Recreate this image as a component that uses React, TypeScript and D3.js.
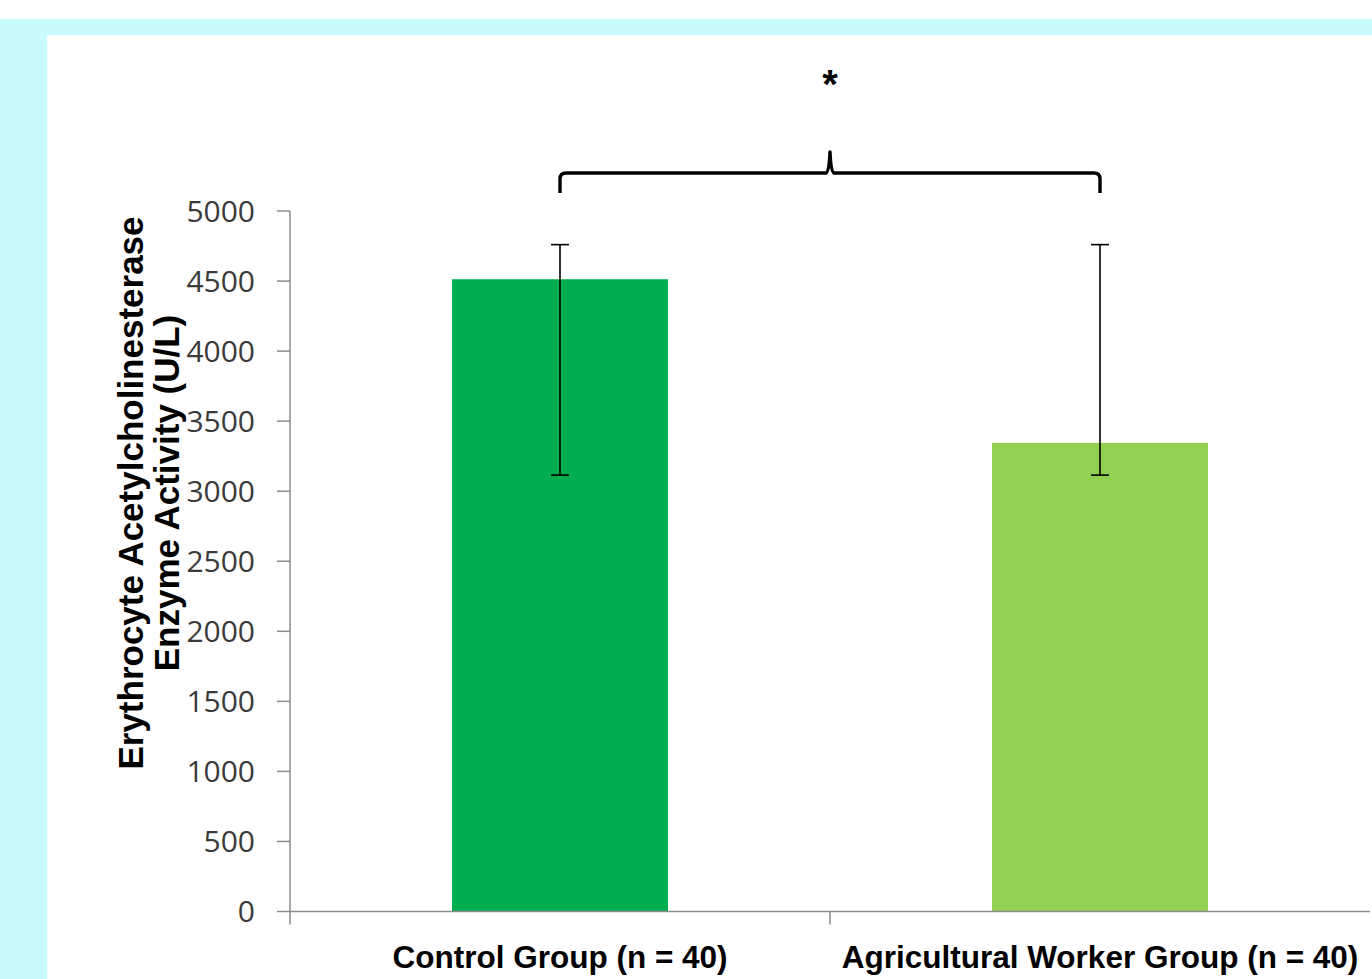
import React from "react";
import * as d3 from "d3";

const categories = ["Control Group (n = 40)", "Agricultural Worker Group (n = 40)"];
const means = [4513, 3345];
const errLow = [3115, 3115];
const errHigh = [4760, 4760];
const barColors = ["#00AE4F", "#92D050"];
const yTicks = [0, 500, 1000, 1500, 2000, 2500, 3000, 3500, 4000, 4500, 5000];
const yTitle = ["Erythrocyte Acetylcholinesterase", "Enzyme Activity (U/L)"];
const significance = "*";
// annotation levels (data units) for the brace
const braceEndLevel = 5128;
const braceLevel = 5271;
const bracePeakLevel = 5421;
const starLevel = 5975;

const W = 1372;
const H = 979;

export default function App() {
  const y = d3.scaleLinear().domain([0, 5000]).range([911.5, 211]);
  const x = d3.scaleBand<string>().domain(categories).range([290, 1370]).paddingInner(0.6).paddingOuter(0.3);
  const band = d3.scaleBand<string>().domain(categories).range([290, 1370]);
  const cx = (c: string) => (x(c) as number) + x.bandwidth() / 2;

  const x1 = cx(categories[0]);
  const x2 = cx(categories[1]);
  const xm = (x1 + x2) / 2;
  const yE = y(braceEndLevel);
  const yH = y(braceLevel);
  const yP = y(bracePeakLevel);
  const r = 6;
  const brace = `M${x1},${yE} L${x1},${yH + r} Q${x1},${yH} ${x1 + r},${yH} L${xm - 4},${yH} Q${xm - 1},${yH - 1} ${xm},${yP} Q${xm + 1},${yH - 1} ${xm + 4},${yH} L${x2 - r},${yH} Q${x2},${yH} ${x2},${yH + r} L${x2},${yE}`;

  const axisColor = "#8c8c8c";
  const tickFont = "'Open Sans', 'Noto Sans', sans-serif";
  const boldFont = "'Liberation Sans', Arial, sans-serif";

  return (
    <svg width={W} height={H} style={{ position: "absolute", left: 0, top: 0 }}>
      <rect x={0} y={0} width={W} height={H} fill="#ffffff" />
      <rect x={0} y={19} width={W} height={H - 19} fill="#C8FCFC" />
      <rect x={47} y={35} width={W - 47} height={H - 35} fill="#ffffff" />

      {/* bars */}
      {categories.map((c, i) => (
        <rect
          key={c}
          x={x(c)}
          y={y(means[i])}
          width={x.bandwidth()}
          height={y(0) - y(means[i])}
          fill={barColors[i]}
        />
      ))}

      {/* y axis */}
      <line x1={290} x2={290} y1={y(5000)} y2={y(0) + 13} stroke={axisColor} strokeWidth={1.5} />
      {yTicks.map((t) => (
        <g key={t}>
          <line x1={277} x2={290} y1={y(t)} y2={y(t)} stroke={axisColor} strokeWidth={1.5} />
          <text
            x={255}
            y={y(t) + 30 * 0.357}
            textAnchor="end"
            fontFamily={tickFont}
            fontSize={30}
            fill="#3a3a3a"
          >
            {t}
          </text>
        </g>
      ))}

      {/* x axis */}
      <line x1={290} x2={1370} y1={y(0)} y2={y(0)} stroke={axisColor} strokeWidth={1.5} />
      {categories.slice(1).map((c) => (
        <line key={c} x1={band(c)} x2={band(c)} y1={y(0)} y2={y(0) + 13} stroke={axisColor} strokeWidth={1.5} />
      ))}
      {categories.map((c) => (
        <text
          key={c}
          x={cx(c)}
          y={968}
          textAnchor="middle"
          fontFamily={boldFont}
          fontWeight="bold"
          fontSize={31.5}
          fill="#000"
        >
          {c}
        </text>
      ))}

      {/* error bars */}
      {categories.map((c, i) => {
        const xc = cx(c);
        return (
          <g key={c} stroke="#000" strokeWidth={1.6}>
            <line x1={xc} x2={xc} y1={y(errHigh[i])} y2={y(errLow[i])} />
            <line x1={xc - 9} x2={xc + 9} y1={y(errHigh[i])} y2={y(errHigh[i])} />
            <line x1={xc - 9} x2={xc + 9} y1={y(errLow[i])} y2={y(errLow[i])} />
          </g>
        );
      })}

      {/* significance brace */}
      <path d={brace} fill="none" stroke="#000" strokeWidth={3.4} strokeLinejoin="round" />
      <text
        x={xm}
        y={y(starLevel) + 0.59 * 40}
        textAnchor="middle"
        fontFamily={boldFont}
        fontWeight="bold"
        fontSize={40}
        fill="#000"
      >
        {significance}
      </text>

      {/* y title */}
      {yTitle.map((line, i) => (
        <text
          key={line}
          transform={`translate(${143 + i * 36},493) rotate(-90)`}
          textAnchor="middle"
          fontFamily={boldFont}
          fontWeight="bold"
          fontSize={35}
          fill="#000"
        >
          {line}
        </text>
      ))}
    </svg>
  );
}
